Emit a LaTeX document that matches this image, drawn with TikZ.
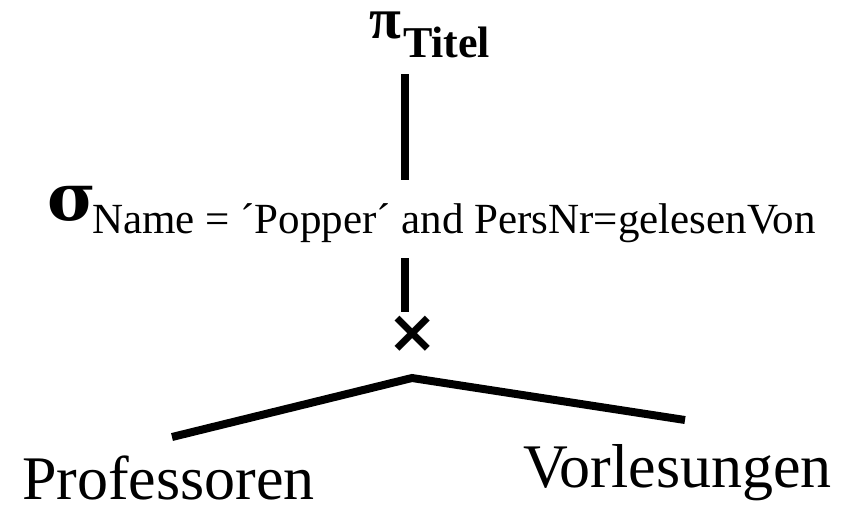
\documentclass[tikz,border=0pt]{standalone}
\usepackage{fontspec}
\setmainfont{Liberation Serif}
\newfontfamily\dejavu{DejaVu Sans}
\newfontfamily\greekfont{DejaVu Serif}
\tikzset{
  edge/.style={line width=8pt, line cap=butt},
  lbl/.style={anchor=base west, inner sep=0pt, outer sep=0pt},
}
\begin{document}
\begin{tikzpicture}[x=1pt,y=-1pt]
\useasboundingbox (0,0) rectangle (866,507);
% projection
\node[lbl, text height=28pt] (pi) at (369,38) {\fontsize{58}{58}\selectfont\bfseries π};
\node[lbl] (titel) at (403,57) {\fontsize{44}{44}\selectfont\bfseries Titel};
% selection
\node[lbl] (sigma) at (47,220) {\fontsize{66}{66}\selectfont\greekfont\bfseries σ};
\node[lbl] (cond) at (92,233) {\fontsize{43}{43}\selectfont Name = ´Popper´ and PersNr=gelesenVon};
% cross product
\node[inner sep=0pt] (cross) at (412.5,334.5) {\fontsize{60}{60}\selectfont\dejavu\bfseries ×};
% relations
\node[lbl, text depth=0pt] (prof) at (22,499) {\fontsize{62}{62}\selectfont Professoren};
\node[lbl] (vorl) at (523,487) {\fontsize{62}{62}\selectfont Vorlesungen};
% connector points
\coordinate (a1) at (405,74);
\coordinate (a2) at (405,180);
\coordinate (b1) at (405,258);
\coordinate (b2) at (405,312);
\coordinate (apex) at (412,378);
\coordinate (lend) at (172,437);
\coordinate (rend) at (685,420);
\draw[edge] (a1) -- (a2);
\draw[edge] (b1) -- (b2);
\draw[edge, line join=miter] (lend) -- (apex) -- (rend);
\end{tikzpicture}
\end{document}
